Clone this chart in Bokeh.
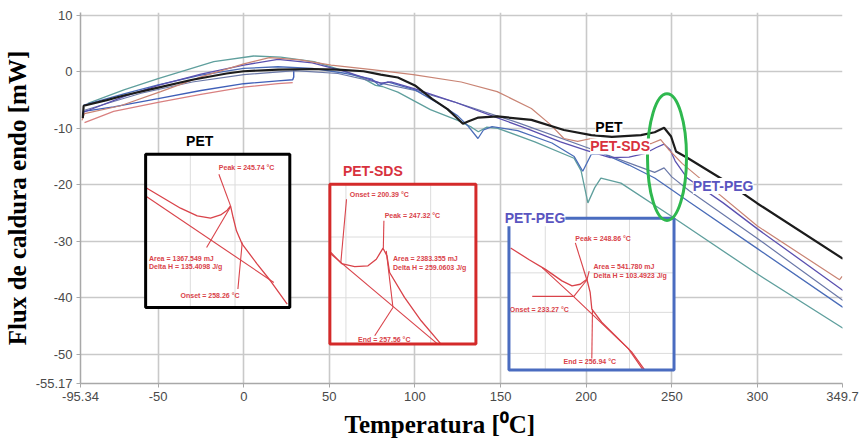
from bokeh.plotting import figure
from bokeh.models import Label, Title, FixedTicker, Range1d
from bokeh.core.properties import value
from bokeh.embed import file_html
from bokeh.resources import INLINE

# ---------------- axis ticks ----------------
x_ticks = [-95.34, -50, 0, 50, 100, 150, 200, 250, 300, 349.7]
x_tick_labels = ["-95.34", "-50", "0", "50", "100", "150", "200", "250", "300", "349.7"]
y_ticks = [-55.17, -50, -40, -30, -20, -10, 0, 10]
y_tick_labels = ["-55.17", "-50", "-40", "-30", "-20", "-10", "0", "10"]

# ---------------- DSC curves (Temperatura degC, Flux mW) ----------------
pet_x = [-94, -93.5, -80, -70, -50, -30, -10, 0, 20, 40, 55, 70, 80, 90, 100, 110, 119, 125, 128, 131,
         137, 148, 168, 187, 203, 215, 232, 240, 245.5, 249.5, 252.5, 259.5, 280, 300, 350]
pet_y = [-8.2, -6.0, -5.0, -4.2, -2.8, -1.4, -0.3, 0.1, 0.4, 0.5, 0.4, 0.1, -0.5, -1.0, -2.4, -4.8, -6.6, -8.3, -9.2, -8.8,
         -8.1, -7.9, -8.5, -10.3, -11.2, -11.5, -11.2, -10.7, -9.9, -11.4, -14.1, -15.3, -19.1, -23.3, -33.1]

sds_x = [-94.5, -93, -72, -48.5, -25, 0, 15, 33, 51, 75, 99, 127, 148, 168, 179, 187, 195, 203, 220, 238,
         243.5, 248, 256, 267, 300, 348, 349.5]
sds_y = [-8.6, -7.4, -6.0, -3.5, -0.9, 1.4, 2.5, 2.1, 1.2, 0.4, -0.5, -1.8, -3.5, -6.5, -9.3, -11.8, -12.3, -11.8, -12.7, -12.7,
         -12.0, -13.7, -16.2, -19.0, -27.3, -36.8, -36.2]

sds_low_x = [-93, -76, -50, -25, 0, 20, 28.6]
sds_low_y = [-9.0, -7.0, -5.4, -4.0, -2.7, -2.1, -1.9]

peg_x = [-94, -70, -50, -25, 0, 20, 40, 60, 76, 80, 86, 100, 122.7, 145, 165, 185, 200, 214, 225, 234,
         241, 245.5, 249, 252, 259, 280, 300, 350]
peg_y = [-7.2, -4.4, -2.4, -0.4, 1.2, 2.2, 1.6, 0.0, -1.6, -2.0, -1.8, -3.0, -5.3, -7.8, -10.0, -12.4, -13.9, -15.2, -15.1, -14.5,
         -13.4, -12.8, -13.8, -15.8, -18.8, -23.2, -27.8, -38.7]

blue_x = [-93.5, -70, -50, -25, 0, 20, 40, 60, 75, 79, 84, 100, 115, 125, 131, 136.8, 140, 145, 160, 180,
          193, 198, 203, 210, 225, 240, 251, 260, 300, 350]
blue_y = [-5.9, -3.9, -2.3, -0.6, 0.6, 0.9, 0.6, -0.3, -1.3, -2.4, -1.8, -3.2, -5.8, -7.8, -9.6, -11.8, -10.3, -9.7, -10.4, -12.6,
          -15.0, -17.6, -14.6, -14.5, -16.5, -18.8, -21.1, -23.0, -31.3, -41.7]

blue_low_x = [-94, -93.5, -76, -50, -25, 0, 20, 28.6, 29.2, 29.2]
blue_low_y = [-7.8, -7.0, -6.2, -4.75, -3.3, -2.1, -1.6, -1.4, -0.9, 0.3]

teal_x = [-91, -70, -50, -17.5, 5.8, 21.6, 41, 56.7, 70, 77, 81, 90, 109, 125, 133, 137, 142, 148.4, 170, 192.9,
          197, 201, 205, 208.6, 220.3, 250, 300, 350]
teal_y = [-5.6, -3.2, -1.2, 1.8, 2.8, 2.6, 1.8, 0.35, -1.2, -2.4, -2.6, -3.6, -6.7, -8.6, -9.8, -10.6, -9.8, -10.0, -12.4, -15.3,
          -17.5, -23.2, -20.5, -18.8, -19.7, -25.6, -35.8, -45.4]

slate_x = [-93, -60, -30, 0, 30, 55, 80, 100, 122.7, 160, 206.9, 230, 240, 245.5, 250, 260, 300, 350]
slate_y = [-6.8, -3.8, -1.8, -0.5, 0.2, -0.3, -2.0, -3.3, -5.3, -9.0, -14.1, -16.7, -17.8, -17.0, -18.6, -21.0, -29.5, -40.5]

# ---------------- inset boxes (x0, x1, y_bottom, y_top) ----------------
box_pet = (-57.3, 26.9, -41.7, -14.6)
box_sds = (50.3, 135.6, -48.2, -19.9)
box_peg = (154.9, 251.3, -52.8, -25.9)

# inset contents in local box fractions (u: left->right, v: bottom->top)
pet_curve_u = [0.0, 0.242, 0.358, 0.450, 0.520, 0.566, 0.589, 0.607, 0.630, 0.670, 0.774, 0.866, 0.982]
pet_curve_v = [0.783, 0.648, 0.598, 0.583, 0.604, 0.635, 0.663, 0.587, 0.500, 0.413, 0.283, 0.174, 0.022]
pet_seg_u = [[0.0, 0.889], [0.508, 0.589], [0.423, 0.589], [0.640, 0.670]]
pet_seg_v = [[0.728, 0.163], [0.870, 0.663], [0.391, 0.657], [0.120, 0.424]]
pet_text = ["Peak = 245.74 °C", "Area = 1367.549 mJ", "Delta H = 135.4098 J/g", "Onset = 258.26 °C"]
pet_text_u = [0.508, 0.023, 0.023, 0.242]
pet_text_v = [0.913, 0.320, 0.265, 0.076]
pet_grid_u = [0.31, 0.62]
pet_grid_v = [0.80, 0.43]

sds_curve_u = [0.007, 0.080, 0.170, 0.261, 0.318, 0.364, 0.391, 0.409, 0.511, 0.625, 0.761]
sds_curve_v = [0.573, 0.504, 0.485, 0.490, 0.531, 0.600, 0.552, 0.448, 0.292, 0.146, 0.0]
sds_seg_u = [[0.007, 0.739], [0.114, 0.075], [0.370, 0.366], [0.386, 0.432], [0.307, 0.432]]
sds_seg_v = [[0.563, 0.0], [0.906, 0.510], [0.771, 0.600], [0.583, 0.229], [0.052, 0.229]]
sds_text = ["Onset = 200.39 °C", "Peak = 247.32 °C", "Area = 2383.355 mJ", "Delta H = 259.0603 J/g", "End = 257.56 °C"]
sds_text_u = [0.136, 0.375, 0.432, 0.432, 0.193]
sds_text_v = [0.938, 0.802, 0.538, 0.479, 0.031]
sds_grid_u = [0.11, 0.69]
sds_grid_v = [0.67, 0.29]

peg_curve_u = [0.010, 0.120, 0.221, 0.321, 0.382, 0.432, 0.472, 0.492, 0.502, 0.562, 0.643, 0.743, 0.823]
peg_curve_v = [0.804, 0.728, 0.663, 0.587, 0.554, 0.565, 0.598, 0.511, 0.402, 0.315, 0.228, 0.120, 0.0]
peg_seg_u = [[0.201, 0.392, 0.723, 0.813], [0.141, 0.392], [0.402, 0.472], [0.392, 0.472], [0.486, 0.472], [0.502, 0.506]]
peg_seg_v = [[0.674, 0.483, 0.141, 0.0], [0.485, 0.485], [0.837, 0.593], [0.483, 0.593], [0.652, 0.593], [0.076, 0.402]]
peg_text = ["Peak = 248.86 °C", "Area = 541.780 mJ", "Delta H = 103.4923 J/g", "Onset = 233.27 °C", "End = 256.94 °C"]
peg_text_u = [0.402, 0.512, 0.512, 0.005, 0.331]
peg_text_v = [0.863, 0.680, 0.624, 0.402, 0.054]
peg_grid_u = [0.22, 0.47, 0.73]
peg_grid_v = [0.64, 0.38, 0.11]

# ---------------- figure ----------------
p = figure(width=865, height=443, x_range=Range1d(-95.34, 349.7), y_range=Range1d(-55.17, 10.5),
           output_backend="svg", toolbar_location=None,
           min_border_left=80, min_border_right=23, min_border_top=12, min_border_bottom=60)
p.outline_line_color = None
p.background_fill_color = "white"

for ax in (p.xaxis[0], p.yaxis[0]):
    ax.major_label_text_font = "Liberation Sans"
    ax.major_label_text_font_size = "13px"
    ax.major_label_text_color = "#4a4a4a"
    ax.axis_line_color = "#a8a8a8"
    ax.axis_line_width = 1.5
    ax.major_tick_line_color = "#a8a8a8"
    ax.major_tick_in = 0
    ax.major_tick_out = 4
    ax.minor_tick_line_color = None

p.xaxis.ticker = FixedTicker(ticks=x_ticks)
p.xaxis.major_label_overrides = {t: s for t, s in zip(x_ticks, x_tick_labels)}
p.yaxis.ticker = FixedTicker(ticks=y_ticks)
p.yaxis.major_label_overrides = {t: s for t, s in zip(y_ticks, y_tick_labels)}
p.xaxis.major_label_standoff = 4
p.yaxis.major_label_standoff = 4

p.yaxis.axis_label = "Flux de caldura endo [mW]"
p.yaxis.axis_label_text_font = "Liberation Serif"
p.yaxis.axis_label_text_font_style = "bold"
p.yaxis.axis_label_text_font_size = "25px"
p.yaxis.axis_label_text_color = "black"
p.yaxis.axis_label_standoff = 2

p.add_layout(Title(text="Temperatura [⁰C]", align="left", offset=264,
                   text_font="Liberation Serif", text_font_style="bold",
                   text_font_size="25px", text_color="black"), "below")

p.xgrid.grid_line_color = "#c9c9c9"
p.ygrid.grid_line_color = "#c9c9c9"
p.xgrid.grid_line_width = 1.6
p.ygrid.grid_line_width = 1.6

# main curves
p.line(sds_low_x, sds_low_y, line_color="#d98080", line_width=1.2)
p.line(blue_low_x, blue_low_y, line_color="#3f5fb8", line_width=1.4)
p.line(teal_x, teal_y, line_color="#5f9f9d", line_width=1.3)
p.line(slate_x, slate_y, line_color="#6a78a8", line_width=1.2)
p.line(blue_x, blue_y, line_color="#4a6cb8", line_width=1.3)
p.line(peg_x, peg_y, line_color="#5a50b0", line_width=1.3)
p.line(sds_x, sds_y, line_color="#c98474", line_width=1.2)
p.line(pet_x, pet_y, line_color="#1c1c1c", line_width=2.2)


def to_data(box, us, vs):
    x0, x1, y0, y1 = box
    return [x0 + u * (x1 - x0) for u in us], [y0 + v * (y1 - y0) for v in vs]


insets = [
    (box_pet, "black", pet_grid_u, pet_grid_v, pet_curve_u, pet_curve_v, pet_seg_u, pet_seg_v, pet_text, pet_text_u, pet_text_v),
    (box_sds, "#d42a2a", sds_grid_u, sds_grid_v, sds_curve_u, sds_curve_v, sds_seg_u, sds_seg_v, sds_text, sds_text_u, sds_text_v),
    (box_peg, "#4a6cc0", peg_grid_u, peg_grid_v, peg_curve_u, peg_curve_v, peg_seg_u, peg_seg_v, peg_text, peg_text_u, peg_text_v),
]
red = "#d9434a"
for box, bcol, gu, gv, cu, cv, su, sv, tt, tu, tv in insets:
    x0, x1, y0, y1 = box
    p.quad(left=[x0], right=[x1], bottom=[y0], top=[y1], fill_color="white", line_color=None)
    gxs, gys = [], []
    for u in gu:
        a, b = to_data(box, [u, u], [0, 1])
        gxs.append(a); gys.append(b)
    for v in gv:
        a, b = to_data(box, [0, 1], [v, v])
        gxs.append(a); gys.append(b)
    p.multi_line(gxs, gys, line_color="#dcdcdc", line_width=1)
    cx, cy = to_data(box, cu, cv)
    p.line(cx, cy, line_color=red, line_width=1.3)
    sxs, sys_ = [], []
    for a_u, a_v in zip(su, sv):
        a, b = to_data(box, a_u, a_v)
        sxs.append(a); sys_.append(b)
    p.multi_line(sxs, sys_, line_color=red, line_width=1.1)
    txs, tys = to_data(box, tu, tv)
    p.text(txs, tys, text=tt, text_font=value("Liberation Sans"), text_font_size="7px",
           text_font_style="bold", text_color=red, text_baseline="middle", text_align="left")
    p.quad(left=[x0], right=[x1], bottom=[y0], top=[y1], fill_color=None, line_color=bcol, line_width=3)

# green ellipse around the melting peaks
p.ellipse(x=[247.2], y=[-15.1], width=22.8, height=22.4, fill_color=None, line_color="#2fb84f", line_width=3)

# labels
labels = [
    ("PET", 213.3, -9.7, "black", "white"),
    ("PET-SDS", 219.8, -13.2, "#d8313d", "white"),
    ("PET-PEG", 280.0, -20.2, "#5a55c0", "white"),
    ("PET", -25.7, -12.3, "black", None),
    ("PET-SDS", 75.4, -17.6, "#d8313d", None),
    ("PET-PEG", 170.1, -25.9, "#5a55c0", "white"),
]
for txt, lx, ly, col, bg in labels:
    p.add_layout(Label(x=lx, y=ly, text=txt, text_align="center", text_baseline="middle",
                       text_font="Liberation Sans", text_font_style="bold", text_font_size="14px",
                       text_color=col, background_fill_color=bg))

open("out.html", "w").write(file_html(p, INLINE))
